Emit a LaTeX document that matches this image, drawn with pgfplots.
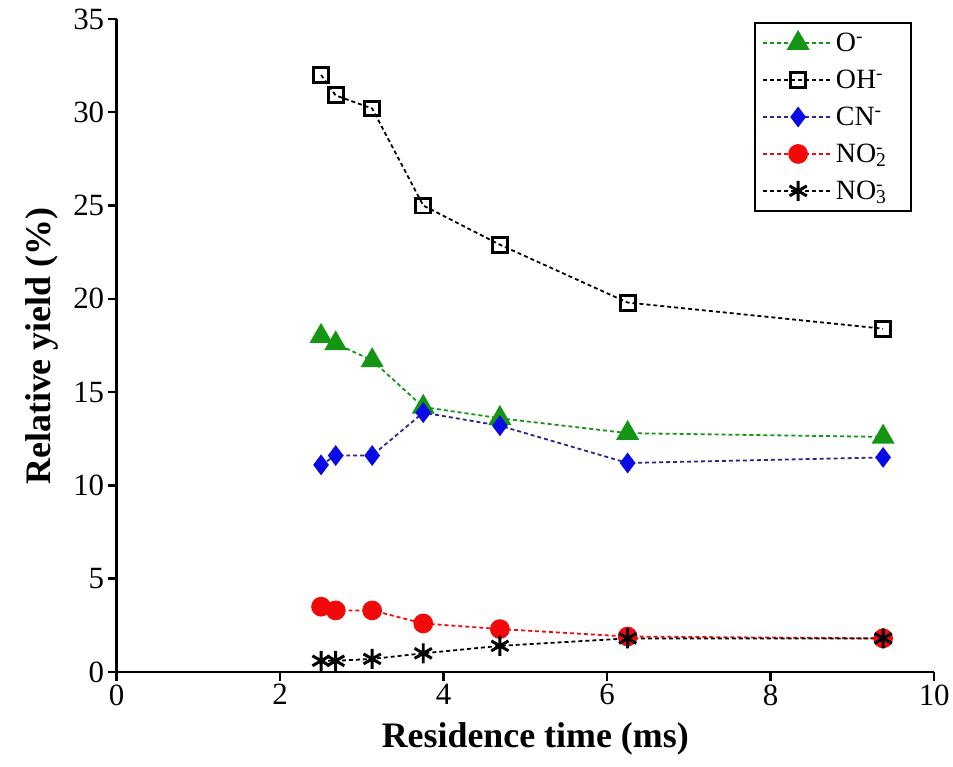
\documentclass[border=0pt]{standalone}
\usepackage{fontspec}
\setmainfont{Liberation Serif}
\usepackage{pgfplots}
\pgfplotsset{compat=1.18}

\definecolor{clrO}{RGB}{20,150,20}
\definecolor{clrCN}{RGB}{10,10,230}
\definecolor{clrCNline}{RGB}{40,40,140}
\definecolor{clrNO}{RGB}{240,10,10}

\newcommand{\ion}[2]{#1\rlap{\textsuperscript{-}}\textsubscript{#2}}
\newcommand{\lbl}[1]{\makebox[66pt][l]{#1}}

\begin{document}
\begin{tikzpicture}
\begin{axis}[
    width=820pt, height=655pt, scale only axis,
    xmin=0, xmax=10, ymin=0, ymax=35,
    xtick={0,2,...,10}, ytick={0,5,...,35},
    axis x line*=bottom, axis y line*=left,
    axis line style={-, line width=2.5pt},
    every tick/.style={black, line width=2.5pt},
    tick align=outside, major tick length=9pt,
    /pgf/number format/assume math mode=true,
    ticklabel style={font=\fontsize{31}{36}\selectfont},
    xlabel={\fontsize{36}{42}\selectfont\bfseries Residence time (ms)},
    ylabel={\fontsize{36}{42}\selectfont\bfseries Relative yield (\%)},
    xlabel style={at={(rel axis cs:0.512,-0.102)}, anchor=center},
    ylabel style={at={(rel axis cs:-0.0915,0.499)}, anchor=center, rotate=0},
    clip=false,
    legend style={at={(0.780,0.995)}, anchor=north west, draw=black,
        line width=2pt, font=\fontsize{28}{31}\selectfont,
        row sep=13pt, inner xsep=7pt, inner ysep=8pt, cells={anchor=west}},
    legend image code/.code={
        \draw[mark repeat=2, mark phase=2, #1] plot coordinates {(0pt,0pt) (35pt,0pt) (70pt,0pt)};
    },
]
% O-
\addplot[clrO, line width=1.8pt, dash pattern=on 4pt off 3pt,
    mark=triangle*, mark size=11.5pt, mark options={solid, fill=clrO}] coordinates {
    (2.5,18.0) (2.679,17.6) (3.125,16.7) (3.75,14.2) (4.6875,13.6) (6.25,12.8) (9.375,12.6)
};
% OH-
\addplot[black, line width=1.8pt, dash pattern=on 4pt off 3pt,
    mark=square, mark size=7.5pt, mark options={solid, line width=3pt, fill=white}] coordinates {
    (2.5,32.0) (2.679,30.9) (3.125,30.2) (3.75,25.0) (4.6875,22.9) (6.25,19.8) (9.375,18.4)
};
% CN-
\addplot[clrCNline, line width=1.8pt, dash pattern=on 4pt off 3pt,
    mark=diamond*, mark size=9pt, mark options={solid, draw=clrCN, fill=clrCN}] coordinates {
    (2.5,11.1) (2.679,11.6) (3.125,11.6) (3.75,13.9) (4.6875,13.2) (6.25,11.2) (9.375,11.5)
};
% NO2-
\addplot[clrNO, line width=1.8pt, dash pattern=on 4pt off 3pt,
    mark=*, mark size=9pt, mark options={solid, fill=clrNO}] coordinates {
    (2.5,3.5) (2.679,3.3) (3.125,3.3) (3.75,2.6) (4.6875,2.3) (6.25,1.9) (9.375,1.8)
};
% NO3-
\addplot[black, line width=1.8pt, dash pattern=on 4pt off 3pt,
    mark=asterisk, mark size=10pt, mark options={solid, line width=3pt}] coordinates {
    (2.5,0.6) (2.679,0.6) (3.125,0.7) (3.75,1.0) (4.6875,1.4) (6.25,1.8) (9.375,1.8)
};
\legend{\lbl{O\textsuperscript{-}}, \lbl{OH\textsuperscript{-}}, \lbl{CN\textsuperscript{-}}, \lbl{\ion{NO}{2}}, \lbl{\ion{NO}{3}}}
% page size as in the reference
\path (rel axis cs:-0.1427,-0.145) (rel axis cs:1.0195,1.029);
\end{axis}
\end{tikzpicture}
\end{document}
